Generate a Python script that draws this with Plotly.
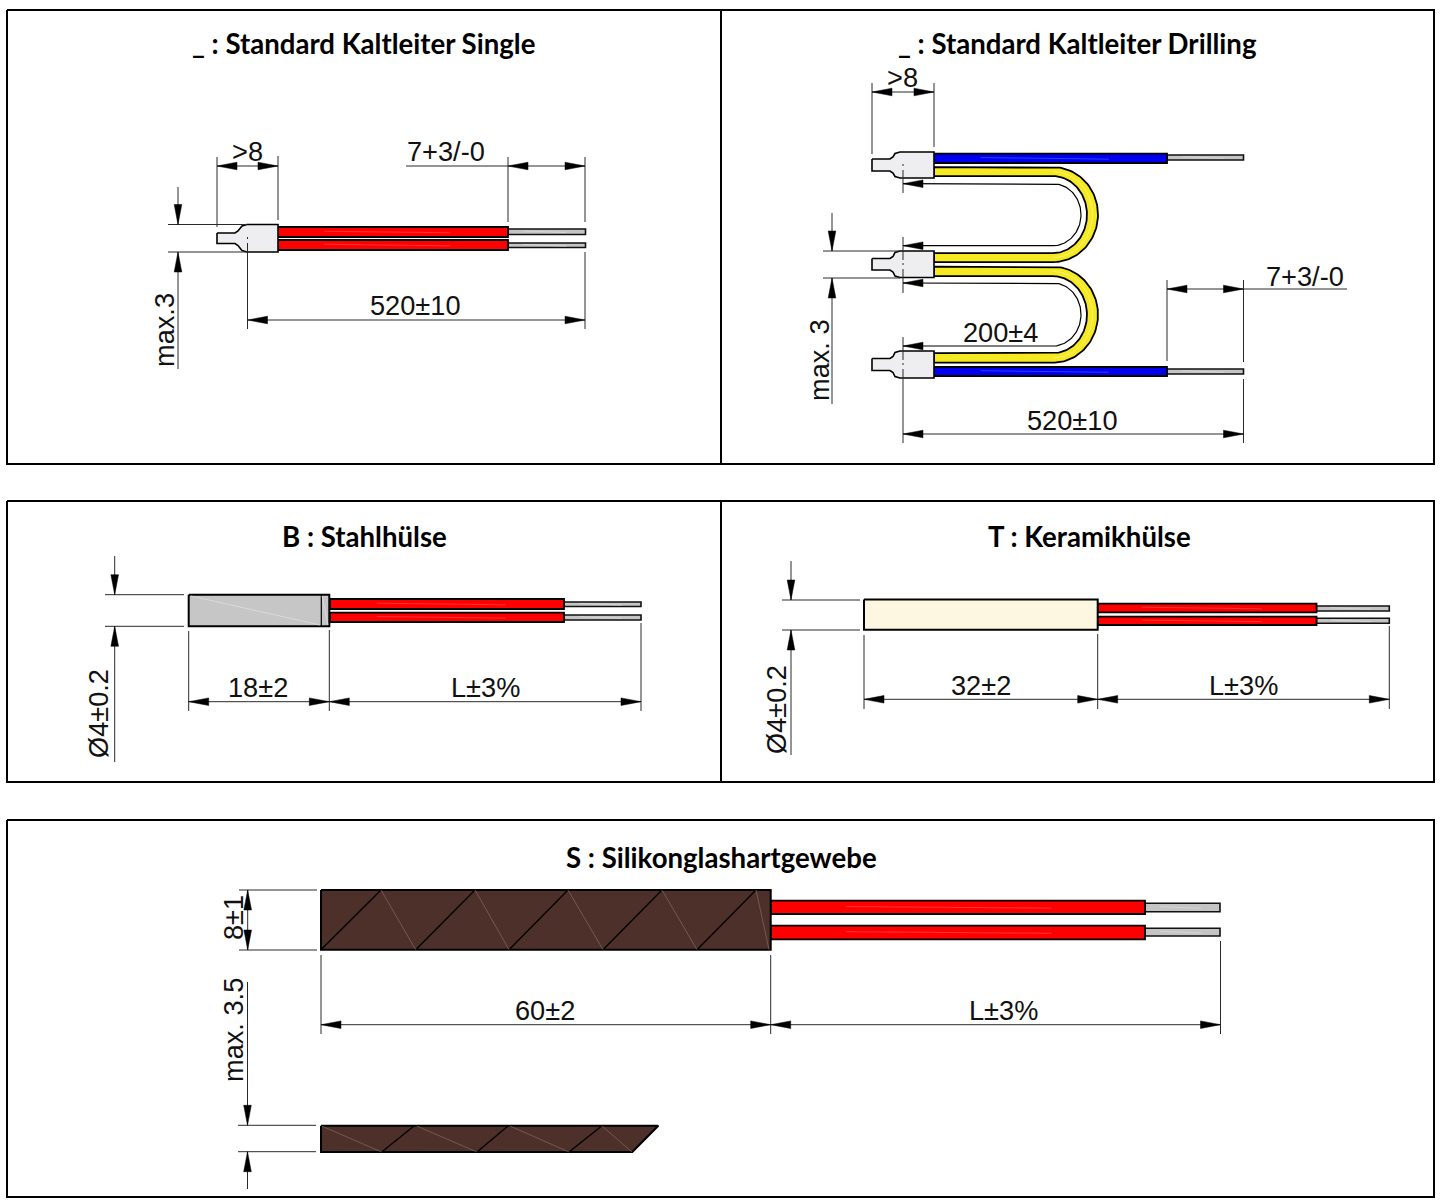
import numpy as np
import plotly.graph_objects as go

W, H = 1441, 1203
BLACK = "#000000"; DIM = "#2a2a2a"
RED = "#ff0000"; BLUE = "#0000ee"; YELLOW = "#f5ea22"; GREY = "#c4c4c4"
BODY = "#eeeef1"; STEEL = "#c6c6c6"; CERAMIC = "#fdf6e1"; BROWN = "#4d3029"; FAINT = "#8f7565"

# Panel frames (x0, y0, x1, y1) and dividers
frames = [(7, 10, 1434, 464), (7, 501, 1434, 782), (7, 820, 1434, 1197)]
dividers = [(721, 10, 721, 464), (721, 501, 721, 782)]

# Titles (text, x, y)
titles = [
    ("_ : Standard Kaltleiter Single", 363, 43),
    ("_ : Standard Kaltleiter Drilling", 1077.5, 43),
    ("B : Stahlhülse", 364, 536),
    ("T : Keramikhülse", 1089.5, 536),
    ("S : Silikonglashartgewebe", 721.5, 857),
]
# Dimension labels (text, x, y, angle)
labels = [
    (">8", 247, 151, 0), ("7+3/-0", 446, 151, 0), ("520±10", 415, 305, 0), ("max.3", 164, 330, -90),
    (">8", 902, 77, 0), ("200±4", 1000, 332, 0), ("7+3/-0", 1305, 276, 0), ("520±10", 1072, 420, 0), ("max. 3", 819, 360, -90),
    ("18±2", 258, 687, 0), ("L±3%", 485, 687, 0), ("Ø4±0.2", 98, 714, -90),
    ("32±2", 981, 685, 0), ("L±3%", 1243, 685, 0), ("Ø4±0.2", 776, 710, -90),
    ("60±2", 545, 1010, 0), ("L±3%", 1003, 1010, 0), ("8±1", 233, 918, -90), ("max. 3.5", 233, 1030, -90),
]

# Thin dimension and extension lines (x0, y0, x1, y1)
dim_lines = [
    # Single
    (217, 166, 278, 166), (217, 157, 217, 227), (278, 156, 278, 220),
    (406, 166, 585, 166), (508, 157, 508, 222), (585, 157, 585, 222),
    (178, 187, 178, 224), (178, 252, 178, 369), (168, 224.5, 247, 224.5), (168, 252, 247, 252),
    (247.5, 320, 585, 320), (247.5, 237, 247.5, 239), (247.5, 243, 247.5, 329), (585, 252, 585, 329),
    # Drilling
    (872, 92, 934, 92), (872, 83, 872, 154), (934, 83, 934, 147),
    (903, 164, 903, 166), (903, 170, 903, 193), (903, 237, 903, 260), (903, 263, 903, 265), (903, 269, 903, 293),
    (903, 337, 903, 360), (903, 363, 903, 365), (903, 369, 903, 443),
    (832, 213, 832, 251), (832, 278, 832, 404), (823, 251, 900, 251), (823, 278, 900, 278),
    (1167, 289, 1347, 289), (1167, 280, 1167, 361), (1243.5, 280, 1243.5, 362),
    (903, 434, 1243.5, 434), (1243.5, 379, 1243.5, 443),
    # Stahlhuelse
    (114.7, 556, 114.7, 595), (114.7, 626, 114.7, 762), (105, 594.7, 184, 594.7), (105, 626.3, 184, 626.3),
    (188.7, 701.7, 641, 701.7), (188.7, 631, 188.7, 711), (329.3, 630, 329.3, 711), (641, 623, 641, 711),
    # Keramikhuelse
    (791, 561, 791, 600), (791, 630, 791, 755), (782, 600, 860, 600), (782, 630, 860, 630),
    (864, 699.3, 1389.3, 699.3), (864, 635, 864, 709), (1097.7, 634, 1097.7, 709), (1389.3, 626, 1389.3, 709),
    # Silikonglas
    (247.7, 890, 247.7, 950), (239, 890, 317, 890), (239, 950, 317, 950),
    (321, 1024.7, 1220.5, 1024.7), (321, 955, 321, 1034), (770.7, 955, 770.7, 1034), (1220.5, 941, 1220.5, 1034),
    (247.5, 982, 247.5, 1125), (247.5, 1152, 247.5, 1189), (238, 1125.3, 316, 1125.3), (238, 1151.7, 316, 1151.7),
]

# Arrow heads (tip x, tip y, direction the tip points)
arrows = [
    (217, 166, "L"), (278, 166, "R"), (508, 166, "L"), (585, 166, "R"),
    (178, 224.5, "D"), (178, 252, "U"), (247.5, 320, "L"), (585, 320, "R"),
    (872, 92, "L"), (934, 92, "R"), (903, 183.7, "L"), (903, 245.7, "L"), (903, 283, "L"), (903, 346, "L"),
    (832, 251, "D"), (832, 278, "U"), (1167, 289, "L"), (1243.5, 289, "R"), (903, 434, "L"), (1243.5, 434, "R"),
    (114.7, 594.7, "D"), (114.7, 626.3, "U"), (188.7, 701.7, "L"), (329.3, 701.7, "R"), (329.3, 701.7, "L"), (641, 701.7, "R"),
    (791, 600, "D"), (791, 630, "U"), (864, 699.3, "L"), (1097.7, 699.3, "R"), (1097.7, 699.3, "L"), (1389.3, 699.3, "R"),
    (247.7, 890, "U"), (247.7, 950, "D"), (321, 1024.7, "L"), (770.7, 1024.7, "R"), (770.7, 1024.7, "L"), (1220.5, 1024.7, "R"),
    (247.5, 1125.3, "D"), (247.5, 1151.7, "U"),
]

# Straight wires (x0, y0, x1, y1)
red_wires = [
    (278, 227, 508, 237), (278, 240, 508, 250),
    (330, 599, 564, 609), (330, 612.7, 564, 622),
    (1098, 603.7, 1316.5, 612.3), (1098, 616.7, 1316.5, 625),
    (771, 900.7, 1145, 914), (771, 925.7, 1145, 939.3),
]
blue_wires = [(934, 153.7, 1167, 163), (934, 367, 1167, 376)]
grey_wires = [
    (508, 229, 585.5, 234.5), (508, 243, 585.5, 247.5),
    (1167, 155, 1243.5, 160), (1167, 369, 1243.5, 374),
    (564, 602, 641, 606.5), (564, 615, 641, 620),
    (1316.5, 606, 1389.3, 611), (1316.5, 618.3, 1389.3, 623.3),
    (1145, 903.3, 1220, 911.7), (1145, 928.3, 1220, 936),
]

# Sensor tips: x of tip, neck end, shoulder, body end; top of body
sensor_x = [(217, 235, 247, 278), (872, 890, 900, 934), (872, 890, 900, 934), (872, 890, 900, 934)]
sensor_top = [224.5, 152, 251, 351]
sensor_height = [27.5, 26, 26.5, 27]
neck_inset = [8.5, 7, 7.5, 7.5]

# U shaped yellow wires: straight start x, arc centre x and y, outer radii, inner radii
u_bend_x0 = [934, 934]; u_bend_xc = [1053, 1053]; u_bend_yc = [214.6, 314.7]
u_outer = [(45, 47.5), (45, 48)]; u_inner = [(34, 38.5), (34, 38.5)]
# Thin dimension loops beside them
u_dim_x0 = [903, 903]; u_dim_rx = [28, 28]; u_dim_yc = [214.7, 314.5]; u_dim_ry = [31, 31.5]

# Sleeves (x0, y0, x1, y1, colour)
sleeves = [(188.7, 594.7, 329.3, 626.3, STEEL), (864, 599.5, 1097.7, 629.7, CERAMIC), (321, 890, 770.7, 949.7, BROWN)]
sleeve_ticks = [(321.3, 595, 321.3, 626)]
steel_sheen = [(191, 596, 320, 625), (322, 596, 328, 625)]
# Cut sleeve outline
cut_x = [321, 658.3, 632.3, 321]; cut_y = [1125.7, 1125.7, 1152, 1152]
# Wrap lines
wrap_black = [
    (321, 949.7, 381, 890), (415.7, 949.7, 475, 890), (509, 949.7, 568, 890), (603, 949.7, 662, 890), (697, 949.7, 756, 890),
    (381.7, 1152, 414, 1126), (477, 1152, 508, 1126), (569, 1152, 601.7, 1126),
]
wrap_faint = [
    (381, 890, 415.7, 949.7), (475, 890, 509, 949.7), (568, 890, 603, 949.7), (662, 890, 697, 949.7), (756, 890, 769, 949.7),
    (321.7, 1126, 381.7, 1152), (416.7, 1126, 477, 1152), (510, 1126, 569, 1152), (602, 1126, 632, 1152),
]

fig = go.Figure()

def poly(xs, ys, fill=None, line=BLACK, width=1.5):
    fig.add_trace(go.Scatter(
        x=list(xs), y=list(ys), mode="lines", line=dict(color=line, width=width),
        fill="toself" if fill else "none", fillcolor=fill, hoverinfo="skip", showlegend=False))

def rect(x0, y0, x1, y1, fill, width=1.8, line=BLACK):
    poly([x0, x1, x1, x0, x0], [y0, y0, y1, y1, y0], fill, line, width)

def segs(items, color, width):
    xs, ys = [], []
    for a, b, c, d in items:
        xs += [a, c, None]; ys += [b, d, None]
    poly(xs, ys, None, color, width)

def sheen(x0, y0, x1, y1, color):
    # A soft highlight running along a wire
    ym = (y0 + y1) / 2
    xa, xb = x0 + 0.2 * (x1 - x0), x0 + 0.75 * (x1 - x0)
    segs([(xa, ym - 0.8, xb, ym + 0.8)], color, 0.7)

def band(x0, xc, yc, outer, inner, fill):
    t = np.linspace(-np.pi / 2, np.pi / 2, 80)
    ox = xc + outer[0] * np.cos(t); oy = yc + outer[1] * np.sin(t)
    ix = xc + inner[0] * np.cos(t[::-1]); iy = yc + inner[1] * np.sin(t[::-1])
    xs = [x0] + list(ox) + [x0, x0] + list(ix) + [x0, x0]
    ys = [oy[0]] + list(oy) + [oy[-1], iy[0]] + list(iy) + [iy[-1], oy[0]]
    poly(xs, ys, fill, BLACK, 1.8)
    # centre highlight
    r = ((outer[0] + inner[0]) / 2, (outer[1] + inner[1]) / 2)
    poly(xc + r[0] * np.cos(t), yc + r[1] * np.sin(t), None, "#f9f27a", 1)

def sensor(x, top, h, ins):
    tx, nx, bx, ex = x
    n0, n1 = top + ins, top + h - ins
    b = top + h
    xs = [tx, nx, nx + 3, bx - 5, bx, ex, ex, bx, bx - 5, nx + 3, nx, tx, tx]
    ys = [n0, n0, n0 - 2, top + 1.5, top, top, b, b, b - 1.5, n1 + 2, n1, n1, n0]
    poly(xs, ys, BODY, BLACK, 1.6)

for f in frames:
    rect(*f, None, 2)
segs(dividers, BLACK, 2)

for x0, y0, x1, y1 in grey_wires:
    rect(x0, y0, x1, y1, GREY, 1.6, "#111111")
    sheen(x0, y0, x1, y1, "#dcdcdc")
for x0, y0, x1, y1 in red_wires:
    rect(x0, y0, x1, y1, RED)
    sheen(x0, y0, x1, y1, "#ff4a4a")
for x0, y0, x1, y1 in blue_wires:
    rect(x0, y0, x1, y1, BLUE)
    sheen(x0, y0, x1, y1, "#3060ff")

for i in range(2):
    band(u_bend_x0[i], u_bend_xc[i], u_bend_yc[i], u_outer[i], u_inner[i], YELLOW)
    t = np.linspace(-np.pi / 2, np.pi / 2, 80)
    lx = [u_dim_x0[i]] + list(u_bend_xc[i] + u_dim_rx[i] * np.cos(t)) + [u_dim_x0[i]]
    ly = [u_dim_yc[i] - u_dim_ry[i]] + list(u_dim_yc[i] + u_dim_ry[i] * np.sin(t)) + [u_dim_yc[i] + u_dim_ry[i]]
    poly(lx, ly, None, BLACK, 1.2)

for i in range(4):
    sensor(sensor_x[i], sensor_top[i], sensor_height[i], neck_inset[i])

for x0, y0, x1, y1, c in sleeves:
    rect(x0, y0, x1, y1, c, 2)
poly(cut_x + cut_x[:1], cut_y + cut_y[:1], BROWN, BLACK, 2)
segs(sleeve_ticks, BLACK, 1.2)
segs(steel_sheen, "#dedede", 0.8)
segs(wrap_black, BLACK, 1.3)
segs(wrap_faint, FAINT, 0.6)

segs(dim_lines, DIM, 1)

ARROW_LEN, ARROW_HALF = 20, 3.8
DIRS = {"L": (1, 0), "R": (-1, 0), "U": (0, 1), "D": (0, -1)}
for x, y, d in arrows:
    ux, uy = DIRS[d]
    bx, by = x + ux * ARROW_LEN, y + uy * ARROW_LEN
    px, py = -uy * ARROW_HALF, ux * ARROW_HALF
    poly([x, bx + px, bx - px, x], [y, by + py, by - py, y], BLACK, BLACK, 0.5)

for text, x, y in titles:
    fig.add_annotation(x=x, y=y, text=f"<b>{text}</b>", showarrow=False, xanchor="center", yanchor="middle",
                       font=dict(family="Lato", size=27.6, color=BLACK))
for text, x, y, a in labels:
    fig.add_annotation(x=x, y=y, text=text, showarrow=False, xanchor="center", yanchor="middle", textangle=a,
                       font=dict(family="Liberation Sans", size=27.2, color="#111111"))

fig.update_layout(
    width=W, height=H, margin=dict(l=0, r=0, t=0, b=0), paper_bgcolor="white", plot_bgcolor="white",
    showlegend=False,
    xaxis=dict(range=[0, W], visible=False, fixedrange=True),
    yaxis=dict(range=[H, 0], visible=False, fixedrange=True),
)
fig.write_html("out.html", config=dict(displayModeBar=False),
               post_script="document.body.style.margin='0';document.documentElement.style.overflow='hidden';")
